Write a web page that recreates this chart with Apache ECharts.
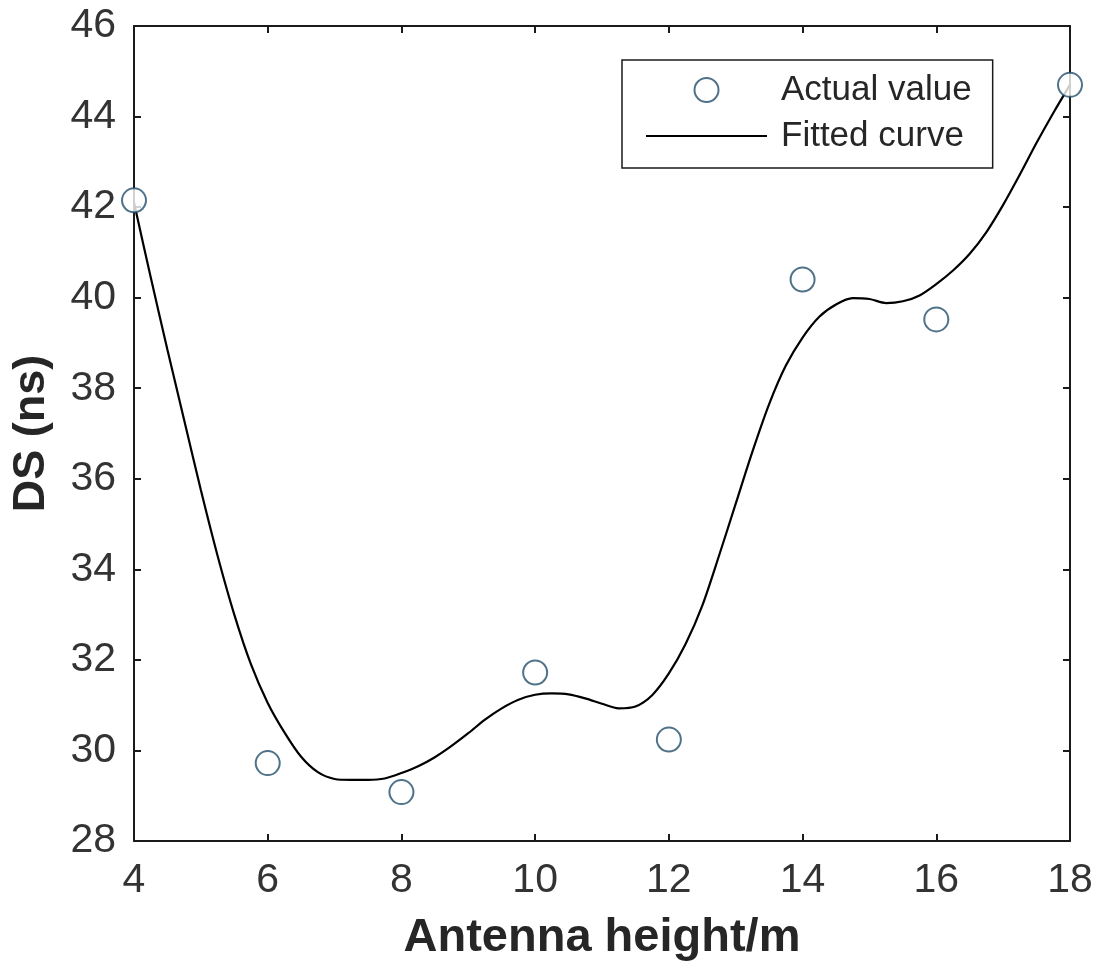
<!DOCTYPE html>
<html>
<head>
<meta charset="utf-8">
<script src="https://cdn.jsdelivr.net/npm/echarts@6/dist/echarts.min.js"></script>
<style>
html,body{margin:0;padding:0;background:#fff;}
#chart{width:1097px;height:967px;}
</style>
</head>
<body>
<div id="chart"></div>
<script>
// Measured points
const heights = [4, 6, 8, 10, 12, 14, 16, 18];
const actualDS = [42.15, 29.72, 29.08, 31.72, 30.24, 40.4, 39.52, 44.7];

// Fitted curve samples
const fitX = [4.0,4.25,4.5,4.75,5.0,5.25,5.5,5.75,6.0,6.25,6.5,6.75,7.0,7.25,7.5,7.75,8.0,8.25,8.5,8.75,9.0,9.25,9.5,9.75,10.0,10.25,10.5,10.75,11.0,11.25,11.5,11.75,12.0,12.25,12.5,12.75,13.0,13.25,13.5,13.75,14.0,14.25,14.5,14.75,15.0,15.25,15.5,15.75,16.0,16.25,16.5,16.75,17.0,17.25,17.5,17.75,18.0];
const fitDS = [42.1,40.45,38.85,37.3,35.75,34.3,33.0,31.9,31.05,30.4,29.86,29.52,29.37,29.35,29.35,29.38,29.5,29.65,29.85,30.1,30.38,30.68,30.93,31.12,31.23,31.26,31.24,31.15,31.03,30.93,30.97,31.22,31.7,32.35,33.2,34.3,35.45,36.6,37.65,38.5,39.12,39.58,39.85,39.99,39.97,39.88,39.92,40.05,40.3,40.6,40.97,41.45,42.05,42.72,43.42,44.08,44.7];

const xTicks = {min: 4, max: 18, interval: 2};
const yTicks = {min: 28, max: 46, interval: 2};

const FONT = 'Liberation Sans';
const axisColor = '#1a1a1a';
const labelColor = '#333333';
const markerColor = '#234f6c';

const chart = echarts.init(document.getElementById('chart'), null, {renderer: 'canvas'});

function frameAxis(extra) {
  return Object.assign({
    type: 'value',
    axisLine: {show: true, onZero: false, lineStyle: {color: axisColor, width: 2}},
    axisTick: {show: true, inside: true, length: 7, lineStyle: {color: axisColor, width: 2}},
    splitLine: {show: false},
  }, extra);
}

chart.setOption({
  animation: false,
  backgroundColor: '#ffffff',
  grid: {left: 134, right: 27, top: 26, bottom: 124, containLabel: false},
  legend: {
    orient: 'vertical',
    left: 622,
    top: 60,
    itemWidth: 121,
    itemHeight: 24,
    itemGap: 6,
    padding: [10, 21, 12, 24],
    borderColor: '#1a1a1a',
    borderWidth: 1.5,
    backgroundColor: '#ffffff',
    textStyle: {fontFamily: FONT, fontSize: 35, lineHeight: 40, color: '#262626', padding: [0, 0, 0, 9]},
    data: [
      {name: 'Actual value', icon: 'emptyCircle'},
      {name: 'Fitted curve', icon: 'path://M0,0 H121 V2.2 H0 Z'}
    ]
  },
  xAxis: [
    frameAxis(Object.assign({
      position: 'bottom',
      name: 'Antenna height/m',
      nameLocation: 'middle',
      nameGap: 74,
      nameTextStyle: {fontFamily: FONT, fontSize: 47, fontWeight: 'bold', color: '#262626'},
      axisLabel: {show: true, margin: 19, fontFamily: FONT, fontSize: 41, color: labelColor}
    }, xTicks)),
    frameAxis(Object.assign({
      position: 'top',
      axisLabel: {show: false}
    }, xTicks))
  ],
  yAxis: [
    frameAxis(Object.assign({
      position: 'left',
      name: 'DS (ns)',
      nameLocation: 'middle',
      nameGap: 80,
      nameRotate: 90,
      nameTextStyle: {fontFamily: FONT, fontSize: 45, fontWeight: 'bold', color: '#262626'},
      axisLabel: {show: true, margin: 18, fontFamily: FONT, fontSize: 41, color: labelColor}
    }, yTicks)),
    frameAxis(Object.assign({
      position: 'right',
      axisLabel: {show: false}
    }, yTicks))
  ],
  series: [
    {
      name: 'Fitted curve',
      type: 'line',
      xAxisIndex: 0,
      yAxisIndex: 0,
      data: fitX.map((x, i) => [x, fitDS[i]]),
      smooth: 0.3,
      symbol: 'none',
      showSymbol: false,
      lineStyle: {color: '#000000', width: 2.2},
      itemStyle: {color: '#000000'},
      z: 2
    },
    {
      name: 'Actual value',
      type: 'scatter',
      xAxisIndex: 0,
      yAxisIndex: 0,
      data: heights.map((x, i) => [x, actualDS[i]]),
      symbol: 'emptyCircle',
      symbolSize: 24,
      itemStyle: {color: markerColor, borderWidth: 2.2},
      z: 3
    }
  ]
});
</script>
</body>
</html>
